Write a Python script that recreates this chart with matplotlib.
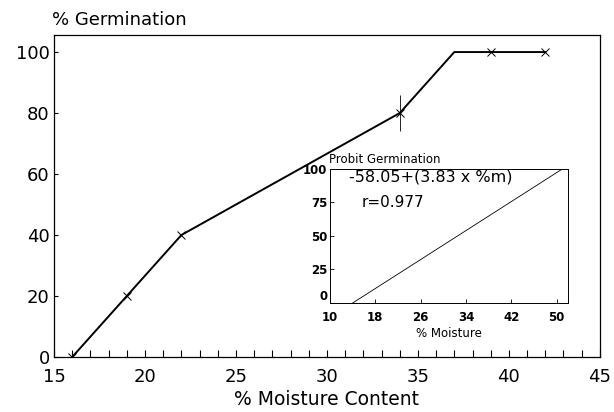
"""Germination vs moisture content, with a probit regression inset."""

import matplotlib
matplotlib.use("Agg")
import matplotlib.pyplot as plt
from matplotlib.ticker import MultipleLocator

# main curve (line path) and observed points
line_moisture = [16, 19, 22, 34, 37, 42]
line_germ = [0, 20, 40, 80, 100, 100]
obs_moisture = [16, 19, 22, 34, 39, 42]
obs_germ = [0, 20, 40, 80, 100, 100]
err_moisture = [34]
err_germ = [80]
err_size = [6]

x_ticks = [15, 20, 25, 30, 35, 40, 45]
y_ticks = [0, 20, 40, 60, 80, 100]

# inset: fitted probit line
probit_moisture = [14, 51]
probit_value = [0, 100]
inset_x_ticks = [10, 18, 26, 34, 42, 50]
inset_y_ticks = [0, 25, 50, 75, 100]


def main():
    plt.rcParams["font.family"] = ["DejaVu Sans"]
    fig = plt.figure(figsize=(6.14, 4.12), dpi=100)

    ax = fig.add_axes([0.088, 0.1335, 0.889, 0.7816])
    ax.plot(line_moisture, line_germ, color="black", lw=1.4)
    ax.plot(obs_moisture, obs_germ, ls="none", marker="x", ms=5.5, mew=0.7, color="black")
    ax.errorbar(err_moisture, err_germ, yerr=err_size, fmt="none", ecolor="black",
                elinewidth=0.6, capsize=0)
    ax.set_xlim(15, 45)
    ax.set_ylim(0, 105.6)
    ax.set_xticks(x_ticks)
    ax.set_yticks(y_ticks)
    ax.xaxis.set_minor_locator(MultipleLocator(1))
    ax.tick_params(axis="x", which="both", direction="in", length=5, width=0.8,
                   labelsize=13, pad=8)
    ax.tick_params(axis="y", direction="in", length=3, width=0.8, labelsize=13, pad=3)
    for spine in ax.spines.values():
        spine.set_linewidth(0.9)
    ax.set_xlabel("% Moisture Content", fontsize=13.5, labelpad=3)
    fig.text(0.085, 0.951, "% Germination", fontsize=13, ha="left", va="center")

    # inset
    ins = fig.add_axes([0.5375, 0.2646, 0.3875, 0.3252])
    ins.plot(probit_moisture, probit_value, color="black", lw=0.6)
    ins.set_xlim(10, 52)
    ins.set_ylim(0, 100)
    ins.set_xticks(inset_x_ticks)
    ins.set_yticks(inset_y_ticks)
    ins.tick_params(direction="in", length=3, width=0.6, labelsize=8.5)
    ins.tick_params(axis="x", pad=6)
    ins.tick_params(axis="y", pad=2)
    for lab in ins.get_xticklabels() + ins.get_yticklabels():
        lab.set_fontweight("bold")
    ins.get_yticklabels()[0].set_verticalalignment("bottom")
    for spine in ins.spines.values():
        spine.set_linewidth(0.7)
    ins.set_xlabel("% Moisture", fontsize=8.5, labelpad=2)
    ins.text(-0.005, 1.02, "Probit Germination", transform=ins.transAxes,
             fontsize=8.5, ha="left", va="bottom")
    ins.text(13.4, 94, "-58.05+(3.83 x %m)", fontsize=11.5, ha="left", va="center")
    ins.text(15.6, 75, "r=0.977", fontsize=11, ha="left", va="center")

    fig.savefig("out.png", dpi=100)


if __name__ == "__main__":
    main()
